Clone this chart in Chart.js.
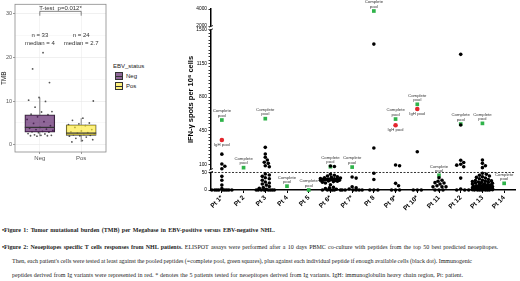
<!DOCTYPE html>
<html>
<head>
<meta charset="utf-8">
<script src="https://cdn.jsdelivr.net/npm/chart.js@4.4.1/dist/chart.umd.min.js"></script>
<style>
  body { margin: 0; background: #fff; width: 520px; height: 281px; overflow: hidden; position: relative; font-family: "Liberation Sans", Arial, sans-serif; }
  #tmbWrap { position: absolute; left: 0; top: 0; width: 112px; height: 165px; }
  #spotWrap { position: absolute; left: 160px; top: 0; width: 360px; height: 215px; }
  .legend { position: absolute; left: 113px; top: 63px; font-size: 6px; color: #222; }
  .legend .item { display: flex; align-items: center; height: 10px; }
  .legend .key { width: 6px; height: 6px; border: 0.6px solid #333; margin: 0 3px 0 2px; position: relative; }
  .legend .key::after { content: ""; position: absolute; left: 0; right: 0; top: 2.7px; border-top: 0.6px solid #333; }
  .cap { position: absolute; font-family: "Liberation Serif", "Times New Roman", serif; font-size: 6px; color: #222; white-space: nowrap; line-height: 8px; }
</style>
</head>
<body>
<div id="tmbWrap"><canvas id="tmbChart"></canvas></div>
<div class="legend">
  <div style="margin-bottom:2px">EBV_status</div>
  <div class="item"><span class="key" style="background:rgba(68,1,84,0.6)"></span>Neg</div>
  <div class="item"><span class="key" style="background:rgba(253,231,37,0.6)"></span>Pos</div>
</div>
<div id="spotWrap"><canvas id="spotChart"></canvas></div>

<div class="cap" data-w="273" style="left:2px;top:226px"><b>•Figure 1: Tumor mutational burden (TMB) per Megabase in EBV-positive versus EBV-negative NHL.</b></div>
<div class="cap" data-w="496" style="left:2px;top:243px"><b>•Figure 2: Neoepitopes specific T cells responses from NHL patients.</b> ELISPOT assays were performed after a 10 days PBMC co-culture with peptides from the top 50 best predicted neoepitopes.</div>
<div class="cap" data-w="460" style="left:12px;top:257px">Then, each patient's cells were tested at least against the pooled peptides (=complete pool, green squares), plus against each individual peptide if enough available cells (black dot). Immunogenic</div>
<div class="cap" data-w="451" style="left:12px;top:271px">peptides derived from Ig variants were represented in red. * denotes the 5 patients tested for neoepitopes derived from Ig variants. IgH: immunoglobulin heavy chain region, Pt: patient.</div>

<script>
// ---------- left panel : TMB per EBV status ----------
const ebvGroups = ['Neg', 'Pos'];
const tmbNeg = [21.0, 17.3, 14.2, 10.8, 10.2, 9.9, 8.6, 7.6, 7.5, 7.0, 6.9, 6.4, 5.8, 5.3, 4.9, 4.4, 4.0,
                3.8, 3.6, 3.5, 3.3, 3.1, 3.0, 2.9, 2.8, 2.6, 2.5, 2.3, 2.2, 2.2, 2.1, 2.1, 2.0];
const tmbPos = [10.0, 6.1, 5.6, 5.0, 4.8, 4.6, 4.4, 4.0, 3.5, 3.2, 3.0, 2.8, 2.7, 2.5, 2.4, 2.3, 2.2,
                2.1, 2.0, 1.8, 1.5, 1.2, 1.0, 0.7];
const whiskLow = [2.0, 0.7];
const boxQ1 = [2.9, 2.2];
const boxMedian = [4.0, 2.7];
const boxQ3 = [6.85, 4.6];
const whiskHigh = [10.8, 6.1];
const groupN = [33, 24];
const medianText = ['4', '2.7'];
const tmbTicks = [0, 5, 10, 15, 20, 25, 30];
const tmbLabelled = [0, 10, 20, 30];
const pText = 'T-test  p=0.012*';

// ---------- right panel : ELISPOT ----------
const patients = ['Pt 1*', 'Pt 2', 'Pt 3', 'Pt 4', 'Pt 5', 'Pt 6*', 'Pt 7*', 'Pt 8', 'Pt 9*', 'Pt 10*', 'Pt 11', 'Pt 12', 'Pt 13', 'Pt 14'];
const dotSpots = [
  [205, 102, 78, 52, 39, 28, 14, 4, 0, 0, 0, 0, 0, 0, 0, 0, 0],
  [],
  [276, 206, 172, 144, 120, 109, 84, 74, 46, 43, 39, 35, 32, 28, 23, 20, 17, 14, 10, 7, 5, 2, 0, 0, 0, 0, 0, 0, 0, 0, 0],
  [],
  [],
  [82, 76, 45, 42, 40, 38, 36, 35, 34, 33, 32, 31, 31, 30, 30, 30, 29, 29, 28, 28, 27, 26, 25, 24, 22, 20, 15, 8, 6, 4, 2, 0, 0, 0, 0, 0, 0],
  [37, 34, 9, 6, 3, 0, 0, 0, 0, 0, 0],
  [1353, 269, 48, 30, 0, 0, 0],
  [92, 84, 19, 12, 0, 0, 0],
  [230, 0, 0, 0],
  [35, 28, 25, 21, 20, 17, 12, 9, 9, 9, 0, 0, 0],
  [1246, 509, 141, 118, 99, 90, 74, 34, 3, 0, 0, 0],
  [144, 109, 84, 64, 48, 45, 42, 40, 38, 36, 34, 32, 30, 28, 27, 26, 25, 24, 23, 22, 21, 20, 19, 18, 17, 16, 15,
   14, 13, 12, 12, 11, 10, 10, 9, 9, 8, 8, 7, 7, 6, 6, 5, 5, 5, 4, 4, 4, 3, 3, 3, 2, 2, 2, 1, 1, 1, 0, 0, 0, 0, 0, 0, 0],
  []
];
const poolSpots = [561, 64, 575, 11, 0, 74, 70, 3764, 571, 725, 42, 519, 526, 19];
const ighSpots = [352, null, null, null, null, null, null, null, 506, 676, null, null, null, null];
const spotTicks = [0, 50, 100, 450, 800, 1150, 1500, 2000, 4000];
const spotThreshold = 50;

Chart.defaults.font.family = '"Liberation Sans", Arial, sans-serif';
Chart.defaults.animation = false;

// broken y axis: 0-50 / 50-1500 / 2000-4000
const segs = [
  { v0: 0, v1: 50, f0: 0, f1: 0.0967 },
  { v0: 50, v1: 1500, f0: 0.116, f1: 0.884 },
  { v0: 2000, v1: 4000, f0: 0.906, f1: 1 }
];
function toFrac(v) {
  for (let i = 0; i < segs.length; i++) {
    const s = segs[i];
    if (v <= s.v1) {
      if (v >= s.v0 || i === 0) return s.f0 + (v - s.v0) / (s.v1 - s.v0) * (s.f1 - s.f0);
      const p = segs[i - 1];
      return p.f1 + (v - p.v1) / (s.v0 - p.v1) * (s.f0 - p.f1);
    }
  }
  return 1;
}
function fromFrac(f) {
  for (const s of segs) {
    if (f <= s.f1) return s.v0 + (f - s.f0) / (s.f1 - s.f0) * (s.v1 - s.v0);
  }
  return 4000;
}

class BrokenScale extends Chart.LinearScale {
  buildTicks() {
    const t = spotTicks.map(v => ({ value: v }));
    for (let v = 135; v < 1500; v += 35) {
      if (!spotTicks.includes(v)) t.push({ value: v });
    }
    return t.sort((a, b) => a.value - b.value);
  }
  getPixelForValue(v) { return this.getPixelForDecimal(toFrac(v)); }
  getValueForPixel(p) { return fromFrac(this.getDecimalForPixel(p)); }
}
BrokenScale.id = 'broken';
BrokenScale.defaults = Chart.LinearScale.defaults;
Chart.register(BrokenScale);

// ---------- TMB boxplot ----------
const jitter = i => (((i + 1) * 0.618034) % 1 - 0.5) * 0.66;
const tmbPoints = [];
[tmbNeg, tmbPos].forEach((vals, g) => {
  vals.forEach((v, i) => tmbPoints.push({ x: g + 1 + jitter(i + g * 7), y: v }));
});

const boxPlugin = {
  id: 'boxParts',
  beforeDatasetsDraw(chart) {
    const { ctx, scales: { x, y } } = chart;
    ctx.save();
    ctx.strokeStyle = '#333';
    ctx.lineWidth = 0.6;
    ebvGroups.forEach((g, i) => {
      const px = x.getPixelForValue(i + 1);
      ctx.beginPath();
      ctx.moveTo(px, y.getPixelForValue(boxQ3[i]));
      ctx.lineTo(px, y.getPixelForValue(whiskHigh[i]));
      ctx.moveTo(px, y.getPixelForValue(boxQ1[i]));
      ctx.lineTo(px, y.getPixelForValue(whiskLow[i]));
      ctx.stroke();
    });
    ctx.restore();
  },
  afterDatasetDraw(chart, args) {
    if (args.index !== 0) return;
    const { ctx, scales: { x, y } } = chart;
    ctx.save();
    ctx.strokeStyle = '#333';
    ctx.lineWidth = 1.2;
    ebvGroups.forEach((g, i) => {
      const px = x.getPixelForValue(i + 1);
      const py = y.getPixelForValue(boxMedian[i]);
      ctx.beginPath();
      ctx.moveTo(px - 15, py);
      ctx.lineTo(px + 15, py);
      ctx.stroke();
    });
    ctx.restore();
  },
  afterDraw(chart) {
    const { ctx, chartArea: a, scales: { x, y } } = chart;
    ctx.save();
    ctx.strokeStyle = '#8a8a8a';
    ctx.lineWidth = 0.8;
    ctx.strokeRect(a.left, a.top, a.right - a.left, a.bottom - a.top);
    // t-test bracket
    const x1 = x.getPixelForValue(1), x2 = x.getPixelForValue(2);
    const yb = y.getPixelForValue(30.4), ye = y.getPixelForValue(29.4);
    ctx.strokeStyle = '#333';
    ctx.lineWidth = 0.6;
    ctx.beginPath();
    ctx.moveTo(x1, ye); ctx.lineTo(x1, yb); ctx.lineTo(x2, yb); ctx.lineTo(x2, ye);
    ctx.stroke();
    ctx.fillStyle = '#333';
    ctx.textAlign = 'center';
    ctx.textBaseline = 'middle';
    ctx.font = '6px "Liberation Sans", Arial';
    ctx.fillText(pText, (x1 + x2) / 2, yb - 3);
    ebvGroups.forEach((g, i) => {
      const px = x.getPixelForValue(i + 1);
      ctx.fillText('n = ' + groupN[i], px, y.getPixelForValue(25.05));
      ctx.fillText('median = ' + medianText[i], px, y.getPixelForValue(23.2));
    });
    ctx.restore();
  }
};

new Chart(document.getElementById('tmbChart'), {
  data: {
    datasets: [
      {
        type: 'bar',
        data: ebvGroups.map((g, i) => ({ x: i + 1, y: [boxQ1[i], boxQ3[i]] })),
        backgroundColor: ['rgba(68,1,84,0.6)', 'rgba(253,231,37,0.6)'],
        borderColor: '#333',
        borderWidth: 0.6,
        borderSkipped: false,
        barThickness: 30
      },
      {
        type: 'scatter',
        data: tmbPoints,
        pointRadius: 0.9,
        backgroundColor: '#555',
        borderWidth: 0
      }
    ]
  },
  options: {
    responsive: true,
    maintainAspectRatio: false,
    layout: { padding: { right: 6, top: 0 } },
    plugins: { legend: { display: false }, tooltip: { enabled: false } },
    scales: {
      x: {
        type: 'linear', min: 0.4, max: 2.6, offset: false,
        afterBuildTicks: s => { s.ticks = ebvGroups.map((g, i) => ({ value: i + 1 })); },
        afterFit: s => { s.height = 13; },
        ticks: { callback: v => ebvGroups[v - 1], color: '#555', font: { size: 6 }, padding: 1, maxRotation: 0 },
        grid: { offset: false, color: '#ececec', lineWidth: 0.6, tickLength: 2, tickColor: '#555' },
        border: { display: false }
      },
      y: {
        min: -1.6, max: 32,
        afterBuildTicks: s => { s.ticks = tmbTicks.map(v => ({ value: v })); },
        afterFit: s => { s.width = 15; },
        ticks: { callback: v => tmbLabelled.includes(v) ? String(v) : '', color: '#555', font: { size: 5.5 }, padding: 1 },
        grid: {
          color: c => tmbLabelled.includes(c.tick.value) ? '#e6e6e6' : '#f4f4f4',
          lineWidth: 0.6, tickLength: 2,
          tickColor: c => tmbLabelled.includes(c.tick.value) ? '#555' : 'rgba(0,0,0,0)'
        },
        border: { display: false },
        title: { display: true, text: 'TMB', color: '#222', font: { size: 6.5 }, padding: { top: 0, bottom: 1 } }
      }
    }
  },
  plugins: [boxPlugin]
});

// ---------- ELISPOT dot plot ----------
const catPx = 21.7;
const axisPx = 181;
function swarm(values) {
  const placed = [];
  return values.map(v => {
    const py = toFrac(v) * axisPx;
    let best = 0, bestGap = -1;
    for (let k = 0; k <= 20; k++) {
      const dx = (k % 2 ? 1 : -1) * Math.ceil(k / 2);
      let gap = Infinity;
      for (const p of placed) gap = Math.min(gap, Math.hypot(p.x - dx, p.y - py));
      if (gap >= 3.2) { best = dx; bestGap = gap; break; }
      if (gap > bestGap) { bestGap = gap; best = dx; }
    }
    placed.push({ x: best, y: py });
    return best / catPx;
  });
}
const dotPoints = [];
dotSpots.forEach((vals, i) => {
  const offs = swarm(vals);
  vals.forEach((v, j) => dotPoints.push({ x: i + offs[j], y: v }));
});
const poolPoints = poolSpots.map((v, i) => ({ x: i, y: v }));
const ighPoints = ighSpots.map((v, i) => v == null ? null : { x: i, y: v }).filter(p => p);

const spotPlugin = {
  id: 'spotParts',
  beforeDatasetsDraw(chart) {
    const { ctx, chartArea: a, scales: { y } } = chart;
    const py = y.getPixelForValue(spotThreshold);
    ctx.save();
    ctx.strokeStyle = '#000';
    ctx.lineWidth = 0.8;
    ctx.setLineDash([2, 1.5]);
    ctx.beginPath();
    ctx.moveTo(a.left, py);
    ctx.lineTo(a.right, py);
    ctx.stroke();
    ctx.restore();
  },
  afterDraw(chart) {
    const { ctx, chartArea: a, scales: { x, y } } = chart;
    ctx.save();
    // axis breaks
    [[1500, 2000], [spotThreshold, spotThreshold + 0.01]].forEach(([lo, hi]) => {
      const yLo = y.getPixelForValue(lo), yHi = y.getPixelForValue(hi);
      ctx.fillStyle = '#fff';
      ctx.fillRect(a.left - 2, yHi + 0.6, 4, yLo - yHi - 1.2);
      ctx.strokeStyle = '#000';
      ctx.lineWidth = 0.8;
      ctx.beginPath();
      ctx.moveTo(a.left - 2, yLo + 0.5); ctx.lineTo(a.left + 2, yLo - 1.2);
      ctx.moveTo(a.left - 2, yHi + 1.2); ctx.lineTo(a.left + 2, yHi - 0.5);
      ctx.stroke();
    });
    // point labels
    ctx.fillStyle = '#333';
    ctx.textAlign = 'center';
    ctx.textBaseline = 'middle';
    ctx.font = '4.3px "Liberation Sans", Arial';
    poolSpots.forEach((v, i) => {
      const px = x.getPixelForValue(i), py = y.getPixelForValue(v);
      ctx.fillText('Complete', px, py - 8.8);
      ctx.fillText('pool', px, py - 4.6);
    });
    ighSpots.forEach((v, i) => {
      if (v == null) return;
      ctx.fillText('IgH pool', x.getPixelForValue(i), y.getPixelForValue(v) + 4.6);
    });
    ctx.restore();
  }
};

new Chart(document.getElementById('spotChart'), {
  type: 'scatter',
  data: {
    datasets: [
      { label: 'Peptide', data: dotPoints, pointRadius: 1.8, backgroundColor: '#000', borderWidth: 0, clip: false },
      { label: 'Complete pool', data: poolPoints, pointStyle: 'rect', pointRadius: 2.6, backgroundColor: '#2fb34a', borderWidth: 0, clip: false },
      { label: 'IgH pool', data: ighPoints, pointRadius: 2.3, backgroundColor: '#e3262d', borderWidth: 0, clip: false }
    ]
  },
  options: {
    responsive: true,
    maintainAspectRatio: false,
    layout: { padding: { top: 9, right: 5 } },
    plugins: { legend: { display: false }, tooltip: { enabled: false } },
    scales: {
      x: {
        type: 'linear', min: -0.5, max: 13.5,
        afterBuildTicks: s => { s.ticks = patients.map((p, i) => ({ value: i })); },
        afterFit: s => { s.height = 25; },
        ticks: { callback: v => patients[v], color: '#000', font: { size: 6.5, weight: 'bold' }, minRotation: 45, maxRotation: 45, padding: 1, autoSkip: false },
        grid: { drawOnChartArea: false, tickLength: 3, tickColor: '#000', tickWidth: 1 },
        border: { color: '#000', width: 1.5 }
      },
      y: {
        type: 'broken', min: 0, max: 4000,
        afterFit: s => { s.width = 51; },
        ticks: { callback: v => spotTicks.includes(v) ? String(v) : '', color: '#000', font: { size: 4.8 }, padding: 1.5, autoSkip: false },
        grid: { drawOnChartArea: false, tickLength: 2.5, tickColor: '#000', tickWidth: 0.8 },
        border: { color: '#000', width: 1.5 },
        title: { display: true, text: 'IFN-γ spots per 10⁶ cells', color: '#000', font: { size: 7.5, weight: 'bold' }, padding: { top: 26, bottom: 0 } }
      }
    }
  },
  plugins: [spotPlugin]
});

// stretch caption lines to the widths of the original text block
document.querySelectorAll('.cap').forEach(el => {
  const target = +el.dataset.w;
  const natural = el.getBoundingClientRect().width;
  const spaces = (el.textContent.match(/ /g) || []).length;
  if (spaces) el.style.wordSpacing = ((target - natural) / spaces) + 'px';
});
</script>
</body>
</html>
